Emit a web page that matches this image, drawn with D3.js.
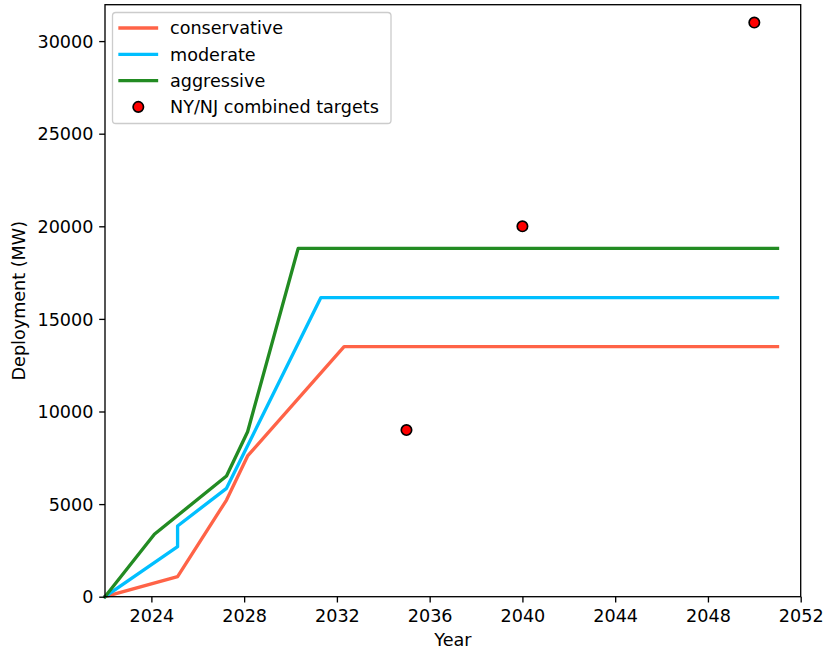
<!DOCTYPE html>
<html>
<head>
<meta charset="utf-8">
<script src="https://cdn.jsdelivr.net/npm/d3@7"></script>
<style>
  html, body { margin: 0; padding: 0; background: #fff; }
  svg text { font-family: "DejaVu Sans", sans-serif; fill: #000; }
</style>
</head>
<body>
<svg id="chart" width="823" height="649"></svg>
<script>
// Offshore wind deployment scenarios (cumulative MW by year)
const conservativeYears = [2022, 2025.13, 2027.24, 2028.15, 2032.31, 2051];
const conservativeMW    = [0, 1080, 5220, 7600, 13500, 13500];

const moderateYears = [2022, 2025.13, 2025.13, 2027.24, 2031.31, 2051];
const moderateMW    = [0, 2700, 3820, 5850, 16150, 16150];

const aggressiveYears = [2022, 2024.13, 2027.24, 2028.15, 2030.33, 2051];
const aggressiveMW    = [0, 3370, 6520, 8910, 18810, 18810];

// State targets (NY + NJ combined)
const targetYears = [2035, 2040, 2050];
const targetMW    = [9000, 20000, 31000];

const xTicks = [2024, 2028, 2032, 2036, 2040, 2044, 2048, 2052];
const yTicks = [0, 5000, 10000, 15000, 20000, 25000, 30000];

const seriesNames  = ["conservative", "moderate", "aggressive"];
const seriesColors = ["tomato", "deepskyblue", "forestgreen"];

const series = [
  { name: seriesNames[0], color: seriesColors[0], pts: d3.zip(conservativeYears, conservativeMW) },
  { name: seriesNames[1], color: seriesColors[1], pts: d3.zip(moderateYears, moderateMW) },
  { name: seriesNames[2], color: seriesColors[2], pts: d3.zip(aggressiveYears, aggressiveMW) }
];
const targets = d3.zip(targetYears, targetMW);

const svg = d3.select("#chart");
const plot = { left: 105, right: 800.7, top: 4.7, bottom: 596.7 };
const fs = 17.6;

const x = d3.scaleLinear().domain([2022, 2052]).range([plot.left, plot.right]);
const y = d3.scaleLinear().domain([0, 31965]).range([plot.bottom, plot.top]);

// data lines
const line = d3.line().x(d => x(d[0])).y(d => y(d[1]));
const g = svg.append("g");
series.forEach(s => {
  g.append("path")
    .attr("d", line(s.pts))
    .attr("fill", "none")
    .attr("stroke", s.color)
    .attr("stroke-width", 3.33)
    .attr("stroke-linejoin", "round")
    .attr("stroke-linecap", "square");
});

// target markers
g.selectAll("circle.target").data(targets).join("circle")
  .attr("class", "target")
  .attr("cx", d => x(d[0]))
  .attr("cy", d => y(d[1]))
  .attr("r", 5.2)
  .attr("fill", "red")
  .attr("stroke", "black")
  .attr("stroke-width", 1.67);

// axes
const xAxis = d3.axisBottom(x).tickValues(xTicks).tickFormat(d3.format("d"))
  .tickSize(5.8).tickPadding(5.8);
const yAxis = d3.axisLeft(y).tickValues(yTicks).tickFormat(d3.format("d"))
  .tickSize(5.8).tickPadding(5.8);

const gx = svg.append("g").attr("transform", `translate(0,${plot.bottom})`).call(xAxis);
const gy = svg.append("g").attr("transform", `translate(${plot.left},0)`).call(yAxis);
[gx, gy].forEach(ax => {
  ax.select(".domain").remove();
  ax.selectAll(".tick line").attr("stroke", "#000").attr("stroke-width", 1.33);
  ax.selectAll(".tick text").attr("font-size", fs).attr("font-family", "DejaVu Sans").attr("fill", "#000");
});
gx.selectAll(".tick text").attr("dy", null).attr("y", 25.8);
gy.selectAll(".tick text").attr("dy", "0.35em");

// frame
svg.append("rect")
  .attr("x", plot.left).attr("y", plot.top)
  .attr("width", plot.right - plot.left).attr("height", plot.bottom - plot.top)
  .attr("fill", "none").attr("stroke", "#000").attr("stroke-width", 1.33);

// axis titles
svg.append("text")
  .attr("x", (plot.left + plot.right) / 2).attr("y", 645.5)
  .attr("text-anchor", "middle").attr("font-size", fs).text("Year");
svg.append("text")
  .attr("transform", `translate(24.5,${(plot.top + plot.bottom) / 2}) rotate(-90)`)
  .attr("text-anchor", "middle").attr("font-size", fs).text("Deployment (MW)");

// legend
const lg = svg.append("g");
lg.append("rect")
  .attr("x", 112.5).attr("y", 12.5).attr("width", 278.5).attr("height", 111)
  .attr("rx", 3.3).attr("ry", 3.3)
  .attr("fill", "white").attr("fill-opacity", 0.8)
  .attr("stroke", "#cccccc").attr("stroke-width", 1.33);
const rowY = i => 28 + i * 26.3;
series.forEach((s, i) => {
  lg.append("line")
    .attr("x1", 120).attr("x2", 156.5)
    .attr("y1", rowY(i)).attr("y2", rowY(i))
    .attr("stroke", s.color).attr("stroke-width", 3.33).attr("stroke-linecap", "square");
  lg.append("text").attr("x", 170).attr("y", rowY(i) + 6.3)
    .attr("font-size", fs).text(s.name);
});
lg.append("circle")
  .attr("cx", 138.3).attr("cy", rowY(3)).attr("r", 5.2)
  .attr("fill", "red").attr("stroke", "black").attr("stroke-width", 1.67);
lg.append("text").attr("x", 170).attr("y", rowY(3) + 6.3)
  .attr("font-size", fs).text("NY/NJ combined targets");
</script>
</body>
</html>
